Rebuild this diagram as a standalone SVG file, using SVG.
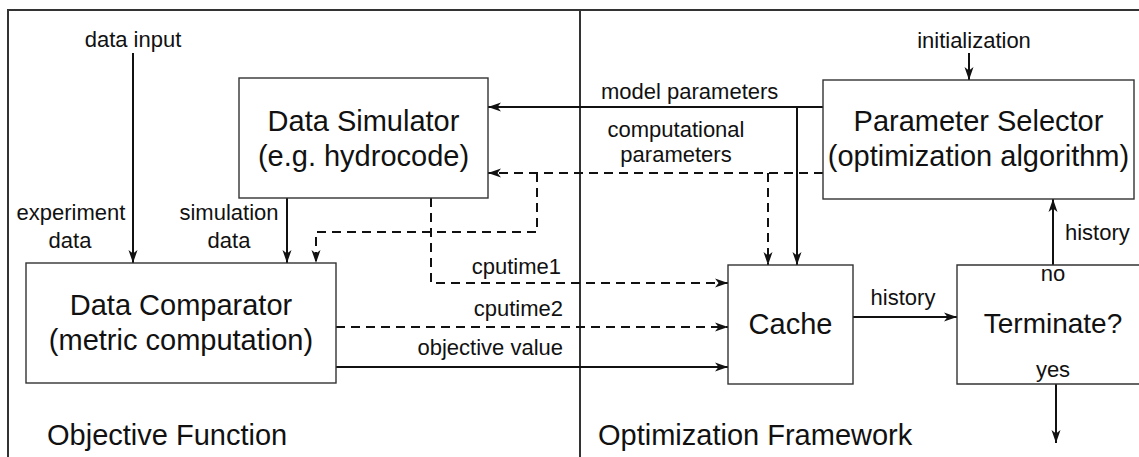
<svg xmlns="http://www.w3.org/2000/svg" width="1139" height="457" viewBox="0 0 1139 457">
  <style>
    .box { fill: #ffffff; stroke: #333333; stroke-width: 1.4; }
    .frame { fill: none; stroke: #333333; stroke-width: 2; }
    .big { font-family: "Liberation Sans", Arial, sans-serif; font-size: 29px; fill: #111111; }
    .lbl { font-family: "Liberation Sans", Arial, sans-serif; font-size: 22px; fill: #111111; }
    .mid { text-anchor: middle; }
    .end { text-anchor: end; }
    .flow { fill: none; stroke: #111111; stroke-width: 2; marker-end: url(#head); }
    .dash { stroke-dasharray: 9 6; }
  </style>
  <defs>
    <marker id="head" viewBox="0 0 13 10" refX="13" refY="5" markerWidth="13" markerHeight="10" markerUnits="userSpaceOnUse" orient="auto">
      <path d="M0,0.5 L13,5 L0,9.5 L3.5,5 Z" fill="#111111"/>
    </marker>
  </defs>
  <rect width="1139" height="457" fill="#ffffff"/>

  <!-- frame and the split between the two halves -->
  <g id="frame">
    <path class="frame" d="M8,457 L8,10 L1139,10"/>
    <line class="frame" x1="580" y1="10" x2="580" y2="457"/>
    <text class="big" x="47" y="445">Objective Function</text>
    <text class="big" x="598" y="445">Optimization Framework</text>
  </g>

  <g id="connectors">
    <!-- inputs -->
    <path class="flow" d="M133,53 L133,263"/>
    <path class="flow" d="M969,53 L969,80"/>
    <!-- model parameters -->
    <path class="flow" d="M823,107 L488,107"/>
    <path class="flow" d="M797,107 L797,265"/>
    <!-- computational parameters -->
    <path class="flow dash" d="M823,173 L488,173"/>
    <path class="flow dash" d="M768,173 L768,265"/>
    <path class="flow dash" d="M537,173 L537,232 L316,232 L316,263"/>
    <!-- simulation data -->
    <path class="flow" d="M287,198 L287,263"/>
    <!-- timings and objective -->
    <path class="flow dash" d="M431,198 L431,283 L728,283"/>
    <path class="flow dash" d="M336,327 L728,327"/>
    <path class="flow" d="M336,367 L728,367"/>
    <!-- history loop -->
    <path class="flow" d="M853,317 L957,317"/>
    <path class="flow" d="M1053,265 L1053,199"/>
    <path class="flow" d="M1056,384 L1056,443"/>

    <text class="lbl mid" x="133" y="47">data input</text>
    <text class="lbl mid" x="974" y="48">initialization</text>
    <text class="lbl" x="601" y="99">model parameters</text>
    <text class="lbl mid" x="676" y="137">computational</text>
    <text class="lbl mid" x="676" y="162">parameters</text>
    <text class="lbl mid" x="71" y="220">experiment</text>
    <text class="lbl mid" x="70" y="248">data</text>
    <text class="lbl mid" x="229" y="220">simulation</text>
    <text class="lbl mid" x="229" y="248">data</text>
    <text class="lbl end" x="561" y="274">cputime1</text>
    <text class="lbl end" x="563" y="316">cputime2</text>
    <text class="lbl end" x="563" y="355">objective value</text>
    <text class="lbl mid" x="903" y="305">history</text>
    <text class="lbl" x="1065" y="240">history</text>
  </g>

  <g id="data-simulator">
    <rect class="box" x="239" y="78" width="249" height="120"/>
    <text class="big mid" x="363.5" y="131">Data Simulator</text>
    <text class="big mid" x="363.5" y="166">(e.g. hydrocode)</text>
  </g>

  <g id="parameter-selector">
    <rect class="box" x="823" y="80" width="311" height="119"/>
    <text class="big mid" x="978.5" y="131">Parameter Selector</text>
    <text class="big mid" x="978.5" y="166">(optimization algorithm)</text>
  </g>

  <g id="data-comparator">
    <rect class="box" x="26" y="263" width="310" height="120"/>
    <text class="big mid" x="181" y="315">Data Comparator</text>
    <text class="big mid" x="181" y="350">(metric computation)</text>
  </g>

  <g id="cache">
    <rect class="box" x="728" y="265" width="125" height="119"/>
    <text class="big mid" x="790.5" y="334">Cache</text>
  </g>

  <g id="terminate">
    <path class="box" d="M1141,265 L957,265 L957,384 L1141,384"/>
    <text class="big mid" x="1053" y="333" style="font-size:28px">Terminate?</text>
    <text class="lbl mid" x="1053" y="281">no</text>
    <text class="lbl mid" x="1053" y="377">yes</text>
  </g>
</svg>
